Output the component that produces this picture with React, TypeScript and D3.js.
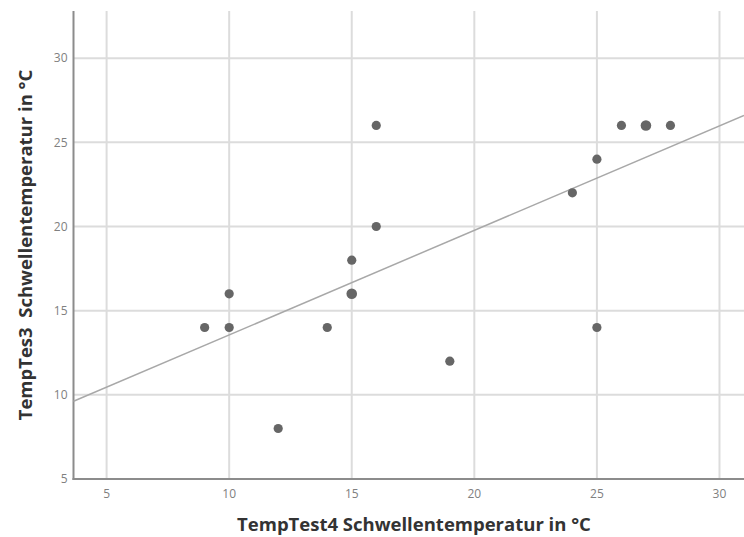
import { useEffect, useRef } from "react";
import * as d3 from "d3";

// scatter points (x = TempTest4, y = TempTes3)
const xValues = [9, 10, 10, 12, 14, 15, 15, 16, 16, 19, 24, 25, 25, 26, 27, 28];
const yValues = [14, 16, 14, 8, 14, 18, 16, 26, 20, 12, 22, 24, 14, 26, 26, 26];
// points that sit on top of another case (drawn a bit heavier)
const stacked = [0, 0, 0, 0, 0, 0, 1, 0, 0, 0, 0, 0, 0, 0, 1, 0];

const xTicks = [5, 10, 15, 20, 25, 30];
const yTicks = [5, 10, 15, 20, 25, 30];

// fit line
const fitIntercept = 7.35;
const fitSlope = 0.621;

const xTitle = "TempTest4 Schwellentemperatur in °C";
const yTitle = "TempTes3  Schwellentemperatur in °C";

const App = () => {
    const ref = useRef<SVGSVGElement>(null);

    useEffect(() => {
        const width = 744;
        const height = 537;
        const margin = { top: 11, right: 0, bottom: 58, left: 73.5 };

        const svg = d3.select(ref.current);
        svg.selectAll("*").remove();

        const x = d3.scaleLinear().domain([3.65, 31]).range([margin.left, width - margin.right]);
        const y = d3.scaleLinear().domain([5, 32.8]).range([height - margin.bottom, margin.top]);

        const font = "'Open Sans', sans-serif";

        // grid
        svg.append("g")
            .selectAll("line")
            .data(yTicks.filter(t => t > 5))
            .enter().append("line")
            .attr("x1", margin.left).attr("x2", width)
            .attr("y1", d => y(d)).attr("y2", d => y(d))
            .attr("stroke", "#dcdcdc")
            .attr("stroke-width", 2);

        svg.append("g")
            .selectAll("line")
            .data(xTicks)
            .enter().append("line")
            .attr("x1", d => x(d)).attr("x2", d => x(d))
            .attr("y1", margin.top).attr("y2", y(5))
            .attr("stroke", "#dcdcdc")
            .attr("stroke-width", 2);

        // axes
        svg.append("line")
            .attr("x1", margin.left).attr("x2", margin.left)
            .attr("y1", margin.top).attr("y2", y(5) + 1)
            .attr("stroke", "#8c8c8c")
            .attr("stroke-width", 2);
        svg.append("line")
            .attr("x1", margin.left - 1).attr("x2", width)
            .attr("y1", y(5)).attr("y2", y(5))
            .attr("stroke", "#8c8c8c")
            .attr("stroke-width", 2);

        // tick labels
        svg.append("g")
            .selectAll("text")
            .data(yTicks)
            .enter().append("text")
            .attr("x", margin.left - 6)
            .attr("y", d => y(d))
            .attr("dy", "0.35em")
            .attr("text-anchor", "end")
            .attr("font-family", font)
            .attr("font-size", "12px")
            .attr("fill", "#808080")
            .text(d => d);

        svg.append("g")
            .selectAll("text")
            .data(xTicks)
            .enter().append("text")
            .attr("x", d => x(d))
            .attr("y", y(5) + 19)
            .attr("text-anchor", "middle")
            .attr("font-family", font)
            .attr("font-size", "12px")
            .attr("fill", "#808080")
            .text(d => d);

        // fit line
        const [x0, x1] = x.domain();
        const line = d3.line<number>()
            .x(d => x(d))
            .y(d => y(fitIntercept + fitSlope * d));
        svg.append("path")
            .datum([x0, x1])
            .attr("d", line)
            .attr("fill", "none")
            .attr("stroke", "#a8a8a8")
            .attr("stroke-width", 1.5);

        // points
        svg.append("g")
            .selectAll("circle")
            .data(xValues.map((v, i) => ({ x: v, y: yValues[i], s: stacked[i] })))
            .enter().append("circle")
            .attr("cx", d => x(d.x))
            .attr("cy", d => y(d.y))
            .attr("r", d => (d.s ? 5.3 : 4.6))
            .attr("fill", "#666");

        // axis titles
        svg.append("text")
            .attr("x", 414)
            .attr("y", height - 6)
            .attr("text-anchor", "middle")
            .attr("font-family", font)
            .attr("font-size", "18.5px")
            .attr("font-weight", "bold")
            .attr("fill", "#333")
            .text(xTitle);

        svg.append("text")
            .attr("transform", `translate(32, 245) rotate(-90)`)
            .attr("text-anchor", "middle")
            .attr("font-family", font)
            .attr("font-size", "18.5px")
            .attr("font-weight", "bold")
            .attr("fill", "#333")
            .attr("xml:space", "preserve")
            .style("white-space", "pre")
            .text(yTitle);
    }, []);

    return (
        <svg
            ref={ref}
            width={744}
            height={537}
            style={{ position: "absolute", left: 0, top: 0, background: "#fff" }}
        />
    );
};

export default App;
